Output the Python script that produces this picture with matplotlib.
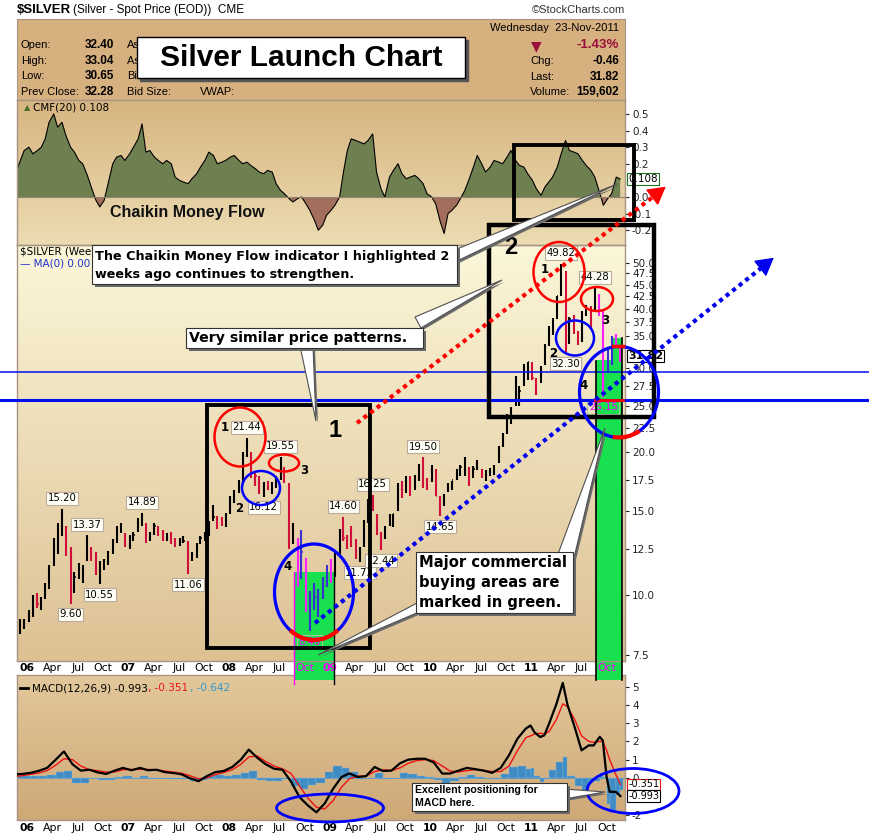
#!/usr/bin/env python3
import matplotlib
matplotlib.use('Agg')
import matplotlib.pyplot as plt
import matplotlib.transforms as mtrans
from matplotlib.colors import LinearSegmentedColormap
from matplotlib.patches import Rectangle, Ellipse, Polygon, Arc
import numpy as np
import pandas as pd

W, H = 870, 838

# half-month bars, first one starts 2005-11-15, last one 2011-11-15
bar_starts = pd.date_range('2005-11-15', '2011-11-15', freq='SMS')

highs = [8.4, 8.9, 8.9,
         9.3, 10.0, 10.1, 9.9, 10.6, 11.6, 13.2, 14.2, 15.20, 14.0, 12.6, 11.2,
         11.7, 11.6, 13.37, 12.6, 12.3, 11.8, 11.9, 12.4, 13.1, 14.0, 14.2, 13.5,
         13.4, 13.6, 14.5, 14.89, 14.2, 13.6, 14.2, 14.0, 13.7, 13.5, 13.6, 13.2,
         13.2, 13.3, 13.0, 12.3, 12.9, 13.3, 13.6, 14.3, 15.5, 14.7, 14.6, 14.9,
         16.2, 16.6, 17.5, 20.0, 21.44, 20.0, 18.2, 17.8, 17.3, 17.4, 17.3, 17.8,
         19.55, 18.6, 17.2, 14.2, 13.2, 13.7, 12.0, 10.2, 10.6, 10.3, 10.9, 11.6,
         11.9, 12.3, 13.8, 14.60, 13.4, 14.0, 13.1, 12.6, 14.4, 15.9, 16.25, 14.8,
         13.6, 14.0, 14.8, 14.8, 17.2, 17.4, 17.8, 17.8, 17.9, 18.9, 19.50, 17.6,
         18.8, 18.4, 16.2, 16.3, 17.2, 17.4, 18.4, 18.8, 19.5, 18.6, 18.7, 19.2,
         18.4, 18.3, 18.5, 18.8, 20.6, 21.9, 24.0, 24.9, 28.9, 27.5, 30.7, 30.9,
         31.0, 28.6, 30.3, 33.8, 36.8, 38.2, 42.6, 49.82, 48.0, 38.4, 38.8, 36.0,
         39.5, 40.8, 40.5, 44.28, 43.0, 39.7, 33.0, 35.0, 35.5, 33.5]
lows = [7.9, 8.3, 8.5,
        8.8, 9.0, 9.4, 9.3, 9.8, 10.3, 11.5, 12.2, 13.3, 12.1, 9.60, 10.1,
        10.8, 10.6, 11.8, 11.8, 11.0, 10.55, 11.3, 11.6, 12.2, 12.9, 13.5, 12.6,
        12.5, 13.0, 13.6, 14.0, 12.9, 13.0, 13.4, 13.3, 13.0, 13.0, 12.8, 12.6,
        12.7, 12.9, 11.06, 11.8, 12.0, 12.8, 13.0, 13.3, 14.3, 13.8, 14.0, 13.9,
        14.8, 15.6, 16.4, 17.2, 19.5, 17.6, 17.0, 16.3, 16.12, 16.6, 16.3, 16.8,
        17.5, 17.2, 12.5, 12.8, 10.4, 10.8, 9.2, 8.40, 9.3, 9.0, 9.8, 10.4,
        10.6, 10.9, 12.2, 13.0, 12.5, 12.6, 11.9, 11.73, 12.6, 14.2, 15.0, 13.4,
        12.44, 13.1, 14.0, 13.9, 15.0, 16.0, 16.4, 16.2, 16.6, 17.4, 16.8, 16.6,
        17.3, 16.2, 14.65, 15.4, 16.5, 16.6, 17.5, 17.8, 17.8, 17.0, 17.6, 18.3,
        17.6, 17.4, 17.8, 17.9, 19.0, 20.5, 21.8, 22.9, 25.0, 25.0, 27.5, 28.3,
        28.3, 26.4, 28.0, 30.5, 33.4, 35.2, 38.0, 42.5, 32.30, 33.8, 35.5, 33.6,
        34.0, 38.6, 36.4, 39.5, 38.6, 26.15, 29.5, 30.5, 33.2, 31.0]
closes = [8.2, 8.7, 8.8,
          9.1, 9.8, 9.6, 9.8, 10.4, 11.5, 12.6, 13.3, 14.4, 12.8, 10.4, 10.9,
          11.3, 11.3, 12.6, 12.2, 11.2, 11.5, 11.6, 12.1, 12.9, 13.8, 13.8, 12.9,
          13.1, 13.4, 14.2, 14.6, 13.0, 13.3, 14.0, 13.5, 13.2, 13.3, 13.2, 12.7,
          13.0, 13.0, 12.0, 12.0, 12.7, 13.2, 13.3, 14.2, 14.6, 14.4, 14.2, 14.8,
          15.8, 16.4, 17.2, 19.8, 20.0, 18.0, 17.8, 16.6, 17.1, 16.9, 17.0, 17.6,
          18.9, 17.4, 13.0, 13.6, 10.8, 12.3, 9.8, 9.8, 9.9, 9.9, 10.5, 11.3,
          11.2, 12.2, 13.5, 13.2, 13.1, 13.0, 12.2, 12.4, 14.3, 15.8, 15.2, 13.8,
          13.2, 13.9, 14.3, 14.8, 16.7, 16.3, 17.6, 16.5, 17.6, 18.8, 17.1, 16.9,
          18.3, 16.2, 15.2, 16.2, 16.8, 17.5, 18.1, 18.6, 18.8, 18.4, 18.4, 18.6,
          18.0, 18.1, 18.1, 18.7, 20.5, 21.8, 23.6, 24.6, 26.4, 26.9, 29.0, 30.9,
          28.6, 27.6, 30.1, 33.4, 35.2, 37.9, 42.5, 47.0, 34.5, 38.0, 36.0, 34.6,
          38.8, 40.0, 39.7, 41.5, 39.8, 30.0, 32.0, 34.4, 33.9, 31.82]
cmf = [0.15, 0.22, 0.28,
       0.30, 0.26, 0.28, 0.30, 0.35, 0.45, 0.50, 0.42, 0.45, 0.37, 0.30, 0.27,
       0.22, 0.20, 0.13, 0.06, -0.02, -0.06, -0.02, 0.08, 0.20, 0.24, 0.25, 0.22,
       0.26, 0.30, 0.35, 0.44, 0.27, 0.28, 0.24, 0.22, 0.20, 0.22, 0.20, 0.12,
       0.10, 0.09, 0.08, 0.11, 0.14, 0.18, 0.22, 0.27, 0.25, 0.20, 0.21, 0.22,
       0.24, 0.25, 0.22, 0.20, 0.21, 0.19, 0.17, 0.15, 0.14, 0.16, 0.15, 0.08,
       0.04, 0.02, -0.01, -0.03, -0.01, 0.0, -0.04, -0.08, -0.14, -0.20, -0.17, -0.11,
       -0.08, -0.05, 0.0, 0.15, 0.28, 0.35, 0.34, 0.33, 0.32, 0.34, 0.38, 0.15,
       0.05, 0.0, 0.12, 0.16, 0.20, 0.14, 0.11, 0.12, 0.13, 0.11, 0.08, 0.02,
       0.0, -0.04, -0.15, -0.22, -0.10, -0.08, -0.05, -0.01, 0.04, 0.10, 0.18, 0.25,
       0.20, 0.15, 0.18, 0.22, 0.21, 0.20, 0.24, 0.28, 0.22, 0.19, 0.18, 0.14,
       0.10, 0.05, 0.01, 0.06, 0.09, 0.12, 0.18, 0.26, 0.34, 0.28, 0.27, 0.26,
       0.22, 0.19, 0.16, 0.12, 0.03, -0.05, -0.01, 0.02, 0.12, 0.108]

macd_dates = ['2005-11-25', '2005-12-15', '2006-01-15', '2006-02-15', '2006-03-15',
              '2006-04-15', '2006-05-15', '2006-06-15', '2006-07-15', '2006-08-15',
              '2006-09-15', '2006-10-15', '2006-11-15', '2006-12-15', '2007-01-15',
              '2007-02-15', '2007-03-15', '2007-04-15', '2007-05-15', '2007-06-15',
              '2007-07-15', '2007-08-15', '2007-09-15', '2007-10-15', '2007-11-15',
              '2007-12-15', '2008-01-15', '2008-02-15', '2008-03-15', '2008-04-15',
              '2008-05-15', '2008-06-15', '2008-07-15', '2008-08-15', '2008-09-15',
              '2008-10-15', '2008-11-15', '2008-12-15', '2009-01-15', '2009-02-15',
              '2009-03-15', '2009-04-15', '2009-05-15', '2009-06-15', '2009-07-15',
              '2009-08-15', '2009-09-15', '2009-10-15', '2009-11-15', '2009-12-15',
              '2010-01-15', '2010-02-15', '2010-03-15', '2010-04-15', '2010-05-15',
              '2010-06-15', '2010-07-15', '2010-08-15', '2010-09-15', '2010-10-15',
              '2010-11-15', '2010-12-15', '2011-01-01', '2011-01-15', '2011-02-05',
              '2011-02-20', '2011-03-10', '2011-04-05', '2011-04-28', '2011-05-15',
              '2011-06-10', '2011-07-05', '2011-07-31', '2011-08-18', '2011-09-09',
              '2011-09-20', '2011-10-04', '2011-10-15', '2011-11-06', '2011-11-23']
macd_line = [0.20, 0.22, 0.28, 0.40, 0.55, 1.00, 1.45, 0.75, 0.40, 0.45,
             0.30, 0.22, 0.40, 0.55, 0.42, 0.55, 0.42, 0.45, 0.32, 0.27,
             0.20, -0.02, -0.18, 0.10, 0.32, 0.38, 0.60, 1.00, 1.55, 1.10,
             0.75, 0.50, 0.45, -0.20, -1.05, -1.50, -1.88, -1.40, -0.60, 0.05,
             0.25, 0.05, 0.10, 0.60, 0.38, 0.40, 0.80, 1.00, 1.05, 1.05,
             0.85, 0.24, 0.24, 0.40, 0.55, 0.48, 0.40, 0.28, 0.55, 1.24,
             2.15, 2.70, 2.87, 2.50, 2.24, 2.33, 3.00, 4.05, 5.20, 4.00,
             2.78, 1.51, 1.78, 1.78, 2.25, 2.05, 0.05, -0.76, -0.76, -0.993]
macd_signal = [0.10, 0.12, 0.20, 0.28, 0.40, 0.70, 1.05, 1.00, 0.65, 0.45,
               0.40, 0.32, 0.33, 0.45, 0.47, 0.47, 0.47, 0.44, 0.38, 0.32,
               0.26, 0.12, -0.05, 0.00, 0.18, 0.30, 0.45, 0.75, 1.15, 1.20,
               0.90, 0.65, 0.50, 0.25, -0.45, -1.10, -1.60, -1.70, -1.25, -0.50,
               -0.05, 0.10, 0.10, 0.35, 0.45, 0.40, 0.55, 0.80, 0.95, 1.00,
               0.95, 0.65, 0.38, 0.33, 0.40, 0.45, 0.42, 0.35, 0.35, 0.65,
               1.50, 2.20, 2.30, 2.40, 2.45, 2.40, 2.55, 3.20, 4.05, 3.90,
               3.20, 2.30, 2.00, 1.95, 2.00, 2.00, 1.50, 1.00, 0.20, -0.351]

# labelled highs and lows: date of the bar, value, side
extreme_dates = ['2006-05-12', '2006-06-13', '2006-08-11', '2006-09-18', '2007-02-26',
                 '2007-08-10', '2008-03-10', '2008-05-05', '2008-07-10', '2008-10-28',
                 '2009-02-23', '2009-04-20', '2009-06-03', '2009-07-10', '2009-12-02',
                 '2010-02-05', '2011-04-28', '2011-05-12', '2011-08-22', '2011-09-26']
extreme_values = [15.20, 9.60, 13.37, 10.55, 14.89, 11.06, 21.44, 16.12, 19.55, 8.40,
                  14.60, 11.73, 16.25, 12.44, 19.50, 14.65, 49.82, 32.30, 44.28, 26.15]
extreme_side = ['hi', 'lo', 'hi', 'lo', 'hi', 'lo', 'hi', 'lo', 'hi', 'lo',
                'hi', 'lo', 'hi', 'lo', 'hi', 'lo', 'hi', 'lo', 'hi', 'lo']

# commercial buying areas (green)
zone_starts = ['2008-08-26', '2011-08-25', '2011-10-23']
zone_ends = ['2009-01-18', '2011-11-29', '2011-11-27']
zone_tops = [11.2, 31.2, 34.7]

price_ticks = [7.5, 10.0, 12.5, 15.0, 17.5, 20.0, 22.5, 25.0, 27.5, 30.0,
               35.0, 37.5, 40.0, 42.5, 45.0, 47.5, 50.0]
cmf_ticks = [0.5, 0.4, 0.3, 0.2, 0.0, -0.1, -0.2]
macd_ticks = [5, 4, 3, 2, 1, 0, -2]


def dec_year(d):
    d = pd.to_datetime(d)
    return np.asarray(d.year + (d.dayofyear - 1) / 365.25, dtype=float)


def px_rect(l, t, r, b):
    return [l / W, 1 - b / H, (r - l) / W, (b - t) / H]


def gradient(rect, top, bottom):
    bg = fig.add_axes(rect, zorder=-5)
    cm = LinearSegmentedColormap.from_list('g', [top, bottom])
    bg.imshow(np.linspace(0, 1, 200).reshape(-1, 1), cmap=cm, aspect='auto',
              extent=(0, 1, 0, 1))
    bg.set_axis_off()


def style_axes(ax):
    for s in ax.spines.values():
        s.set_color('#A89484')
        s.set_linewidth(1)
    ax.set_facecolor('none')
    ax.yaxis.tick_right()
    ax.set_xticks([])
    ax.tick_params(axis='y', labelsize=7.5, length=3, pad=2, colors='#222222',
                   direction='out')


fig = plt.figure(figsize=(W / 100, H / 100), dpi=100)
fig.patch.set_facecolor('white')

X0, X1 = 2005.9007, 2011.938

# overlay in pixel coordinates for the hand-drawn notes
ov = fig.add_axes([0, 0, 1, 1], zorder=20)
ov.set_xlim(0, W)
ov.set_ylim(H, 0)
ov.set_axis_off()
ov.patch.set_visible(False)

# ---- header ----
hd = fig.add_axes(px_rect(17, 19, 625, 100), zorder=0)
hd.set_facecolor('#D6B07F')
hd.set_xticks([])
hd.set_yticks([])
for s in hd.spines.values():
    s.set_color('#A89484')

LS = 'Liberation Sans'
ov.text(17, 10, '$SILVER', fontsize=9.5, weight='bold', family=LS, va='center')
ov.text(73, 10, '(Silver - Spot Price (EOD))  CME', fontsize=8.5, family=LS, va='center')
ov.text(625, 10, '\u00a9StockCharts.com', fontsize=8, family=LS, va='center', ha='right', color='#333333')
rows = [('Open:', '32.40', 'Ask:', ''), ('High:', '33.04', 'Ask Size:', ''),
        ('Low:', '30.65', 'Bid:', 'Last:'), ('Prev Close:', '32.28', 'Bid Size:', 'VWAP:')]
for k, (a, b, c, d) in enumerate(rows):
    y = 45 + k * 15.7
    ov.text(21, y, a, fontsize=8, family=LS, va='center')
    ov.text(114, y, b, fontsize=8.5, weight='bold', family=LS, va='center', ha='right')
    ov.text(127, y, c, fontsize=8, family=LS, va='center')
    ov.text(200, y, d, fontsize=8, family=LS, va='center')
ov.text(619, 28, 'Wednesday  23-Nov-2011', fontsize=8, family=LS, va='center', ha='right')
ov.text(536, 46, '\u25bc', fontsize=10, va='center', ha='center', color='#99103A')
ov.text(619, 45, '-1.43%', fontsize=9.5, weight='bold', family=LS, va='center', ha='right', color='#99103A')
for k, (a, b) in enumerate([('Chg:', '-0.46'), ('Last:', '31.82'), ('Volume:', '159,602')]):
    y = 61 + k * 15.7
    ov.text(530, y, a, fontsize=8, family=LS, va='center')
    ov.text(619, y, b, fontsize=8.5, weight='bold', family=LS, va='center', ha='right')

ov.add_patch(Rectangle((140, 40), 328, 41, color='#555555', zorder=2))
ov.add_patch(Rectangle((137, 37), 328, 41, facecolor='white', edgecolor='black', lw=1, zorder=3))
ov.text(301, 58, 'Silver Launch Chart', fontsize=21.5, weight='bold', family=LS,
        ha='center', va='center', zorder=4)

# ---- CMF panel ----
t_bar = dec_year(bar_starts + pd.Timedelta(days=7))
cmf_arr = np.array(cmf)
gradient(px_rect(17, 100, 625, 245), '#D7B581', '#ECDCB2')
ax_cmf = fig.add_axes(px_rect(17, 100, 625, 245), zorder=1)
style_axes(ax_cmf)
ax_cmf.fill_between(t_bar, cmf_arr, 0, where=cmf_arr >= 0, interpolate=True, color='#6E7F50', lw=0)
ax_cmf.fill_between(t_bar, cmf_arr, 0, where=cmf_arr < 0, interpolate=True, color='#A46E5C', lw=0)
ax_cmf.plot(t_bar, cmf_arr, color='black', lw=0.8)
ax_cmf.axhline(0, color='#8F8272', lw=0.8)
ax_cmf.set_xlim(X0, X1)
ax_cmf.set_ylim(-0.289, 0.584)
ax_cmf.set_yticks(cmf_ticks)
ax_cmf.set_yticklabels([f'{v:.1f}' for v in cmf_ticks])
ax_cmf.text(0.012, 0.95, '\u25b2', color='#4E6B30', fontsize=6, transform=ax_cmf.transAxes, va='center')
ax_cmf.text(0.027, 0.95, 'CMF(20) 0.108', fontsize=7.5, transform=ax_cmf.transAxes, va='center')
ax_cmf.text(1.005, cmf_arr[-1], '0.108', fontsize=7.5, va='center', ha='left', clip_on=False,
            transform=mtrans.blended_transform_factory(ax_cmf.transAxes, ax_cmf.transData),
            bbox=dict(boxstyle='square,pad=0.12', fc='white', ec='#207020', lw=0.8))
ov.text(110, 212, 'Chaikin Money Flow', fontsize=11.5, weight='bold', family=LS,
        va='center', color='#111111')

# ---- price panel ----
hi = np.array(highs)
lo = np.array(lows)
cl = np.array(closes)
gradient(px_rect(17, 245, 625, 661), '#FBF7D9', '#DDC193')
ax = fig.add_axes(px_rect(17, 245, 625, 661), zorder=2)
style_axes(ax)
ax.set_yscale('log')
ax.set_xlim(X0, X1)
ax.set_ylim(7.27, 54.5)
ax.set_yticks(price_ticks)
ax.set_yticklabels([f'{v:.1f}' for v in price_ticks])
ax.yaxis.set_minor_locator(matplotlib.ticker.NullLocator())

z0 = dec_year(zone_starts)
z1 = dec_year(zone_ends)
for a, b, top in zip(z0, z1, zone_tops):
    ax.add_patch(Rectangle((a, 6.62), b - a, top - 6.62, color='#19E04F', lw=0,
                           clip_on=False, zorder=1))

prev = np.r_[cl[0], cl[:-1]]
up = cl >= prev
in_zone = ((t_bar >= z0[0]) & (t_bar <= z1[0])) | (t_bar >= z0[1])
cols = np.where(in_zone, np.where(up, '#3A2FD0', '#FF22FF'),
                np.where(up, 'black', '#D0103A'))
ax.vlines(t_bar, lo, hi, colors=cols, lw=1.5, zorder=3)
ax.hlines(cl, t_bar, t_bar + 0.011, colors=cols, lw=1.1, zorder=3)

for d, v, side in zip(extreme_dates, extreme_values, extreme_side):
    i = int(bar_starts.searchsorted(pd.Timestamp(d), side='right')) - 1
    zone = in_zone[i]
    off = (0, 4) if side == 'hi' else (0, -4)
    ax.annotate(f'{v:.2f}', (t_bar[i], v), xytext=off, textcoords='offset points',
                ha='center', va='bottom' if side == 'hi' else 'top', fontsize=7.3,
                color='#FF00FF' if zone else 'black', zorder=5,
                bbox=dict(boxstyle='square,pad=0.15', fc='none' if zone else '#FFFFF6',
                          ec='#A9C99A' if zone else '#BBAA99', lw=0.8))

ax.text(0.005, 0.982, '$SILVER (Weekly)', fontsize=7.5, transform=ax.transAxes, va='center')
ax.text(0.005, 0.955, '\u2014 MA(0) 0.00', fontsize=7.5, color='#2233CC', transform=ax.transAxes, va='center')
ax.text(1.005, cl[-1], '31.82', fontsize=8, weight='bold', va='center', ha='left', clip_on=False,
        transform=mtrans.blended_transform_factory(ax.transAxes, ax.transData), zorder=6,
        bbox=dict(boxstyle='square,pad=0.1', fc='white', ec='black', lw=0.8))
# blue horizontal support lines across whole picture
for lvl, lw in [(29.5, 1.1), (25.7, 2.2)]:
    ax.axhline(lvl, xmin=-17 / 608, xmax=(W - 17) / 608, color='#0010EE', lw=lw,
               clip_on=False, zorder=6)

# ---- MACD panel ----
tm = dec_year(macd_dates)
ml = np.array(macd_line)
ms = np.array(macd_signal)
hist = ml - ms
gradient(px_rect(17, 675, 625, 820), '#E2C89B', '#CFA877')
axm = fig.add_axes(px_rect(17, 675, 625, 820), zorder=1)
style_axes(axm)
widths = np.diff(tm, append=tm[-1] + 0.03)
axm.bar(tm, hist, width=widths, align='edge', color='#3F8CC4', edgecolor='#7FB7DA', lw=0.3, zorder=2)
axm.axhline(0, color='#5A9ACC', lw=0.6)
axm.plot(tm, ms, color='#EE1111', lw=1.0, zorder=3)
axm.plot(tm, ml, color='black', lw=1.6, zorder=4)
axm.set_xlim(X0, X1)
axm.set_ylim(-2.3, 5.63)
axm.set_yticks(macd_ticks)
axm.set_yticklabels([str(v) for v in macd_ticks])
mt = mtrans.blended_transform_factory(axm.transAxes, axm.transData)
axm.text(1.005, ms[-1], '-0.351', fontsize=7, va='center', ha='left', clip_on=False, transform=mt,
         color='black', bbox=dict(boxstyle='square,pad=0.08', fc='white', ec='#EE1111', lw=0.8), zorder=6)
axm.text(1.005, ml[-1], '-0.993', fontsize=7, va='center', ha='left', clip_on=False, transform=mt,
         color='black', bbox=dict(boxstyle='square,pad=0.08', fc='white', ec='black', lw=0.8), zorder=6)
ov.plot([20, 28], [688, 688], color='black', lw=2)
ov.text(32, 688, 'MACD(12,26,9) -0.993', fontsize=7.5, va='center')
ov.text(148, 688, ', -0.351', fontsize=7.5, va='center', color='#EE1111')
ov.text(190, 688, ', -0.642', fontsize=7.5, va='center', color='#3399CC')

# ---- date labels ----
for axis_obj, ypx, colored in [(ax, 668, True), (axm, 828, False)]:
    tr = mtrans.blended_transform_factory(axis_obj.transData, ov.transData)
    for yr in range(2006, 2012):
        for m, name in [(1, f'{yr % 100:02d}'), (4, 'Apr'), (7, 'Jul'), (10, 'Oct')]:
            t = yr + (m - 1) / 12 + 0.005
            magenta = colored and (yr, m) in [(2008, 10), (2009, 1), (2011, 10)]
            fig.text(t, ypx, name, transform=tr, ha='center', va='center', fontsize=7.8,
                     weight='bold' if m == 1 else 'normal',
                     color='#FF00FF' if magenta else 'black', zorder=4)

# ---- annotations ----
def pointer(b1, b2, tip):
    ov.add_patch(Polygon([(b1[0] + 2, b1[1] + 2), (b2[0] + 2, b2[1] + 2), (tip[0] + 2, tip[1] + 2)],
                         color='#6A6A6A', lw=0, zorder=5))
    ov.add_patch(Polygon([b1, b2, tip], facecolor='white', edgecolor='#505050', lw=0.8, zorder=6))


def callout(l, t, r, b, lines, ys, size, family='DejaVu Sans'):
    ov.add_patch(Rectangle((l + 3, t + 3), r - l, b - t, color='#6A6A6A', lw=0, zorder=7))
    ov.add_patch(Rectangle((l, t), r - l, b - t, facecolor='white', edgecolor='#333333', lw=0.8, zorder=8))
    for s, y in zip(lines, ys):
        ov.text(l + 3, y, s, fontsize=size, weight='bold', family=family, va='center', zorder=9)


pointer((452, 251), (455, 262), (617, 184))
pointer((300, 346), (313, 346), (316, 421))
pointer((415, 317), (421, 328), (502, 280))
pointer((558, 554), (573, 562), (605, 428))
pointer((419, 602), (419, 612), (318, 655))
pointer((564, 789), (564, 799), (605, 792))

callout(92, 245, 457, 284, ['The Chaikin Money Flow indicator I highlighted 2',
                            'weeks ago continues to strengthen.'], [256, 274], 9.2)
callout(186, 328, 423, 348, ['Very similar price patterns.'], [338], 10.2)
callout(416, 552, 573, 613, ['Major commercial', 'buying areas are', 'marked in green.'],
        [562, 582, 602], 10.6)
callout(412, 783, 567, 811, ['Excellent positioning for', 'MACD here.'], [790, 803], 7.6, LS)

# boxes around the two patterns
for (l, t, r, b, lw) in [(207, 405, 370, 648, 2.8), (489, 225, 654, 417, 3.2), (514, 145, 634, 220, 2.8)]:
    ov.add_patch(Rectangle((l, t), r - l, b - t, fill=False, ec='black', lw=lw, zorder=4))
ov.text(335, 430, '1', fontsize=17, weight='bold', family=LS, ha='center', va='center')
ov.text(511, 247, '2', fontsize=17, weight='bold', family=LS, ha='center', va='center')

for (cx, cy, w, h, c, lw) in [(240, 437, 51, 59, 'red', 1.8), (261, 488, 38, 34, 'blue', 1.8),
                              (284, 463, 30, 17, 'red', 1.8), (314, 592, 79, 96, 'blue', 2.3),
                              (559, 272, 51, 60, 'red', 1.8), (575, 338, 38, 35, 'blue', 1.8),
                              (597, 299, 32, 24, 'red', 1.8), (619, 392, 79, 91, 'blue', 2.3),
                              (330, 808, 107, 28, 'blue', 2.0), (633, 791, 92, 45, 'blue', 2.0)]:
    ov.add_patch(Ellipse((cx, cy), w, h, fill=False, ec=c, lw=lw, zorder=5))
ov.add_patch(Arc((314, 592), 79, 96, theta1=58, theta2=122, color='red', lw=3, zorder=6))
ov.add_patch(Arc((619, 392), 79, 91, theta1=62, theta2=98, color='red', lw=3, zorder=6))
ov.plot([613, 623], [346, 346], color='red', lw=2.5, zorder=6)
ov.plot([595, 623], [400, 400], color='red', lw=2, zorder=6)

for s, x, y in [('1', 225, 427), ('2', 239, 508), ('3', 304, 470), ('4', 288, 566),
                ('1', 545, 269), ('2', 553, 353), ('3', 605, 320), ('4', 584, 385)]:
    ov.text(x, y, s, fontsize=8.5, weight='bold', ha='center', va='center', zorder=6)

# green zone edges
ov.plot([294, 294], [572, 684], color='#FF00FF', lw=1, zorder=3)
ov.plot([334, 334], [572, 684], color='black', lw=1, zorder=3)
ov.plot([596, 596], [361, 680], color='black', lw=1.2, zorder=3)
ov.plot([622, 622], [338, 680], color='black', lw=1.2, zorder=3)

# trend arrows
ov.plot([357, 658], [423, 193], color='red', lw=3, linestyle=(0, (1, 1)), zorder=6)
ov.annotate('', xy=(668, 185), xytext=(655, 195), zorder=6,
            arrowprops=dict(arrowstyle='-|>,head_length=0.8,head_width=0.45', color='red',
                            lw=1, mutation_scale=14))
ov.plot([315, 765], [623, 265], color='#0000EE', lw=3, linestyle=(0, (1, 1)), zorder=6)
ov.annotate('', xy=(776, 256), xytext=(762, 267), zorder=6,
            arrowprops=dict(arrowstyle='-|>,head_length=0.8,head_width=0.45', color='#0000EE',
                            lw=1, mutation_scale=14))

fig.savefig('out.png', dpi=100)
